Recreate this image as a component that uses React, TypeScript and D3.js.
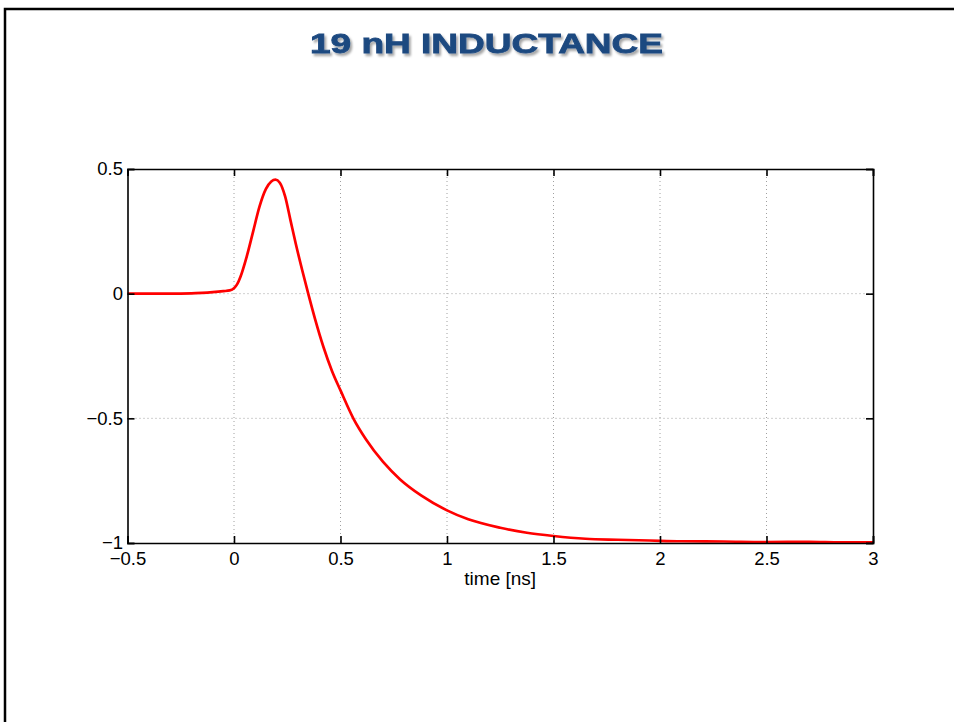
import React, { useRef, useEffect } from "react";
import * as d3 from "d3";

// Data
const timeNs = [
  -0.5, -0.3, -0.2, -0.15, -0.1, -0.05, -0.02, 0, 0.015, 0.03, 0.06, 0.09, 0.12,
  0.15, 0.175, 0.195, 0.215, 0.24, 0.265, 0.29, 0.32, 0.35, 0.38, 0.42, 0.46,
  0.5, 0.56, 0.62, 0.7, 0.78, 0.88, 1.0, 1.1, 1.25, 1.375, 1.5, 1.65, 1.8, 1.95,
  2.1, 2.3, 2.5, 2.7, 2.85, 3.0,
];
const response = [
  0, 0, 0.001, 0.003, 0.006, 0.01, 0.013, 0.022, 0.038, 0.067, 0.15, 0.25, 0.35,
  0.42, 0.45, 0.457, 0.445, 0.39, 0.295, 0.2, 0.095, -0.005, -0.1, -0.214, -0.31,
  -0.388, -0.5, -0.585, -0.675, -0.745, -0.81, -0.869, -0.905, -0.939, -0.959,
  -0.972, -0.983, -0.987, -0.99, -0.993, -0.994, -0.996, -0.995, -0.997, -0.997,
];
const xTicks = [-0.5, 0, 0.5, 1, 1.5, 2, 2.5, 3];
const yTicks = [-1, -0.5, 0, 0.5];

const fmt = (v: number) => (v < 0 ? "\u2212" + String(-v) : String(v));

const App: React.FC = () => {
  const ref = useRef<SVGSVGElement | null>(null);

  useEffect(() => {
    if (!ref.current) return;
    const width = 954;
    const height = 722;
    const margin = { top: 169, right: 81, bottom: 179, left: 127.5 };
    const innerW = width - margin.left - margin.right;
    const innerH = height - margin.top - margin.bottom;

    const svg = d3.select(ref.current);
    svg.selectAll("*").remove();

    // slide frame
    svg
      .append("path")
      .attr("d", `M5,${height} L5,9 L${width},9`)
      .attr("fill", "none")
      .attr("stroke", "#000")
      .attr("stroke-width", 2.5);

    // title with shadow
    const defs = svg.append("defs");
    const f = defs
      .append("filter")
      .attr("id", "shadow")
      .attr("x", "-10%")
      .attr("y", "-30%")
      .attr("width", "120%")
      .attr("height", "160%");
    f.append("feDropShadow")
      .attr("dx", 2)
      .attr("dy", 2.5)
      .attr("stdDeviation", 1.3)
      .attr("flood-color", "#000")
      .attr("flood-opacity", 0.35);

    svg
      .append("text")
      .attr("x", 486.5)
      .attr("y", 52.5)
      .attr("text-anchor", "middle")
      .attr("font-family", "'Liberation Sans', Arial, sans-serif")
      .attr("font-weight", "bold")
      .attr("font-size", 27)
      .attr("textLength", 353)
      .attr("lengthAdjust", "spacingAndGlyphs")
      .attr("fill", "#1f4a80")
      .attr("stroke", "#1f4a80")
      .attr("stroke-width", 0.8)
      .attr("filter", "url(#shadow)")
      .text("19 nH INDUCTANCE");

    const g = svg
      .append("g")
      .attr("transform", `translate(${margin.left},${margin.top})`);

    const x = d3.scaleLinear().domain([-0.5, 3]).range([0, innerW]);
    const y = d3.scaleLinear().domain([-1, 0.5]).range([innerH, 0]);

    // grid
    const grid = g.append("g").attr("class", "grid");
    grid
      .selectAll("line.gx")
      .data(xTicks.slice(1, -1))
      .join("line")
      .attr("x1", (d) => x(d))
      .attr("x2", (d) => x(d))
      .attr("y1", 0)
      .attr("y2", innerH)
      .attr("stroke", "#a0a0a0")
      .attr("stroke-width", 1)
      .attr("stroke-dasharray", "1,3");
    grid
      .selectAll("line.gy")
      .data(yTicks.slice(1, -1))
      .join("line")
      .attr("x1", 0)
      .attr("x2", innerW)
      .attr("y1", (d) => y(d))
      .attr("y2", (d) => y(d))
      .attr("stroke", "#a0a0a0")
      .attr("stroke-width", 1)
      .attr("stroke-dasharray", "1,3");

    // curve
    const pts = timeNs.map((t, i) => [t, response[i]] as [number, number]);
    const line = d3
      .line<[number, number]>()
      .x((d) => x(d[0]))
      .y((d) => y(d[1]))
      .curve(d3.curveMonotoneX);
    g.append("path")
      .datum(pts)
      .attr("d", line)
      .attr("fill", "none")
      .attr("stroke", "#ff0000")
      .attr("stroke-width", 2.7)
      .attr("stroke-linejoin", "round");

    // axes (MATLAB style, ticks inward on all sides)
    const font = "'Liberation Sans', Arial, Helvetica, sans-serif";
    const fs = 18.5;
    const tl = 7;
    const xb = d3.axisBottom(x).tickValues(xTicks).tickSize(-tl).tickPadding(9).tickFormat((d) => fmt(+d));
    const xt = d3.axisTop(x).tickValues(xTicks).tickSize(-tl).tickFormat(() => "");
    const yl = d3.axisLeft(y).tickValues(yTicks).tickSize(-tl).tickPadding(4.5).tickFormat((d) => fmt(+d));
    const yr = d3.axisRight(y).tickValues(yTicks).tickSize(-tl).tickFormat(() => "");

    const style = (sel: d3.Selection<SVGGElement, unknown, null, undefined>) => {
      sel.attr("font-size", fs).attr("font-family", font);
      sel.select(".domain").attr("stroke", "#000").attr("stroke-width", 1.6);
      sel.selectAll(".tick line").attr("stroke", "#000").attr("stroke-width", 1.6);
      sel
        .selectAll(".tick text")
        .attr("fill", "#000")
        .attr("font-family", font)
        .attr("font-size", fs);
    };

    g.append("g").attr("transform", `translate(0,${innerH})`).call(xb).call(style);
    g.append("g").call(xt).call(style);
    g.append("g").call(yl).call(style);
    g.append("g").attr("transform", `translate(${innerW},0)`).call(yr).call(style);

    g.append("text")
      .attr("x", innerW / 2)
      .attr("y", innerH + 42)
      .attr("text-anchor", "middle")
      .attr("font-family", font)
      .attr("font-size", 19)
      .attr("fill", "#000")
      .text("time [ns]");
  }, []);

  return (
    <svg
      ref={ref}
      width={954}
      height={722}
      style={{ position: "absolute", left: 0, top: 0, background: "#fff" }}
    />
  );
};

export default App;
